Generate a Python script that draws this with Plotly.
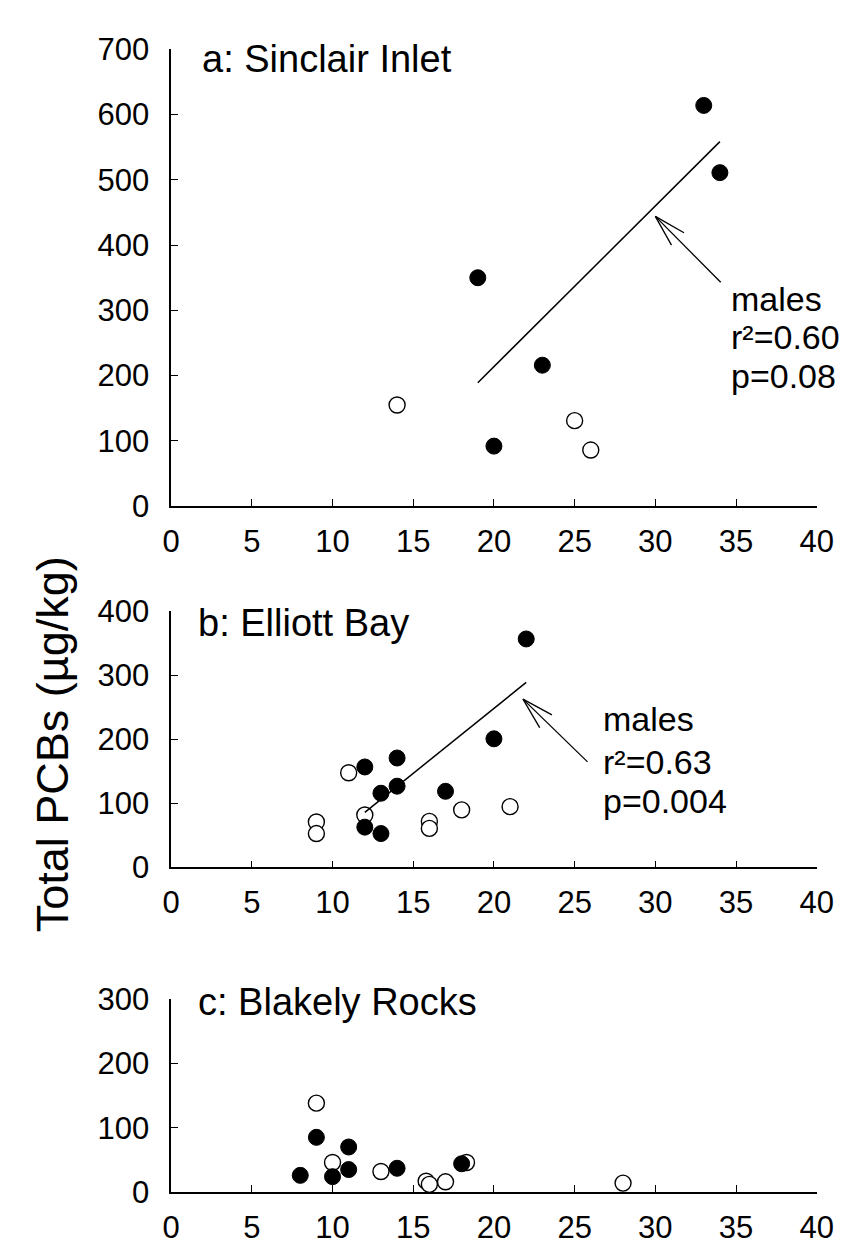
import math
import numpy as np
import plotly.graph_objects as go

# ---------------- data ----------------
# Panel a: Sinclair Inlet
a_male_x = [19, 20, 23, 33, 34]
a_male_y = [350, 92, 216, 614, 511]
a_female_x = [14, 25, 26]
a_female_y = [155, 131, 86]

# Panel b: Elliott Bay
b_male_x = [12, 12, 13, 13, 14, 14, 17, 20, 22]
b_male_y = [157, 63, 116, 53, 171, 127, 119, 201, 357]
b_female_x = [9, 9, 11, 12, 16, 16, 18, 21]
b_female_y = [71, 53, 148, 82, 72, 61, 90, 95]

# Panel c: Blakely Rocks
c_male_x = [8, 9, 10, 11, 11, 14, 18]
c_male_y = [26, 85, 24, 70, 35, 37, 44]
c_female_x = [9, 10, 13, 15.8, 16, 17, 18.3, 28]
c_female_y = [138, 46, 32, 17, 12, 16, 46, 14]

panel_titles = ["a: Sinclair Inlet", "b: Elliott Bay", "c: Blakely Rocks"]
y_max = [700, 400, 300]
x_max = 40
x_ticks = [0, 5, 10, 15, 20, 25, 30, 35, 40]
stats_a = ["males", "r²=0.60", "p=0.08"]
stats_b = ["males", "r²=0.63", "p=0.004"]
y_title = "Total PCBs (µg/kg)"

# ---------------- layout helpers ----------------
W, H = 849, 1252
def px(x):
    return x / W
def py(y):
    return 1 - y / H

FONT = "Liberation Sans, Arial, sans-serif"
X_LEFT, X_RIGHT = 159, 825
Y_PIX = [(495, 25), (866.7, 603.3), (1200.7, 1001.7)]   # (bottom, top) pixel rows
x_dom = [px(X_LEFT), px(X_RIGHT)]
y_doms = [[py(b), py(t)] for b, t in Y_PIX]

def data_to_pix(p, x, y):
    b, t = Y_PIX[p]
    return (X_LEFT + x * (X_RIGHT - X_LEFT) / x_max, b - y * (b - t) / y_max[p])

def pix_to_data(p, X, Y):
    b, t = Y_PIX[p]
    return ((X - X_LEFT) * x_max / (X_RIGHT - X_LEFT), (b - Y) * y_max[p] / (b - t))

fig = go.Figure()

panels = [
    (a_male_x, a_male_y, a_female_x, a_female_y),
    (b_male_x, b_male_y, b_female_x, b_female_y),
    (c_male_x, c_male_y, c_female_x, c_female_y),
]

for i, (mx, my, fx, fy) in enumerate(panels):
    xa = "x" if i == 0 else f"x{i+1}"
    ya = "y" if i == 0 else f"y{i+1}"
    fig.add_trace(go.Scatter(
        x=fx, y=fy, mode="markers", xaxis=xa, yaxis=ya,
        marker=dict(symbol="circle", size=16, color="white",
                    line=dict(color="black", width=1.4)),
        cliponaxis=False, showlegend=False))
    fig.add_trace(go.Scatter(
        x=mx, y=my, mode="markers", xaxis=xa, yaxis=ya,
        marker=dict(symbol="circle", size=16, color="black",
                    line=dict(color="black", width=1)),
        cliponaxis=False, showlegend=False))
    if i < 2:
        slope, intercept = np.polyfit(mx, my, 1)
        lx = np.array([min(mx), max(mx)], dtype=float)
        fig.add_trace(go.Scatter(
            x=lx, y=slope * lx + intercept, mode="lines", xaxis=xa, yaxis=ya,
            line=dict(color="black", width=1.5), showlegend=False))

axis_common = dict(
    showline=True, linecolor="black", linewidth=1.5,
    ticks="inside", ticklen=7, tickwidth=1.3, tickcolor="black",
    showgrid=False, zeroline=False,
    tickfont=dict(family=FONT, size=31, color="black"),
)

layout = dict(
    width=W, height=H, margin=dict(l=0, r=0, t=0, b=0),
    paper_bgcolor="white", plot_bgcolor="white",
    font=dict(family=FONT, color="black"),
)
for i in range(3):
    xk = "xaxis" if i == 0 else f"xaxis{i+1}"
    yk = "yaxis" if i == 0 else f"yaxis{i+1}"
    ya = "y" if i == 0 else f"y{i+1}"
    xa = "x" if i == 0 else f"x{i+1}"
    layout[xk] = dict(axis_common, domain=x_dom, range=[0, x_max], anchor=ya,
                      tickvals=x_ticks, ticklabelstandoff=7)
    layout[yk] = dict(axis_common, domain=y_doms[i], range=[0, y_max[i]], anchor=xa,
                      tickvals=list(range(0, y_max[i] + 1, 100)), ticklabelstandoff=14)
fig.update_layout(**layout)

# ---------------- arrows (open V heads) as shapes ----------------
arrows = [  # (panel, head x, head y, tail x, tail y) in data units
    (0, 30, 444, 34.05, 343),
    (1, 21.8, 263, 25.8, 165),
]
shapes = []
BARB_LEN, BARB_ANG = 34, math.radians(15.5)
for p, hx, hy, tx, ty in arrows:
    xr = "x" if p == 0 else f"x{p+1}"
    yr = "y" if p == 0 else f"y{p+1}"
    line = dict(color="black", width=1.3)
    shapes.append(dict(type="line", xref=xr, yref=yr, x0=tx, y0=ty, x1=hx, y1=hy, line=line))
    HX, HY = data_to_pix(p, hx, hy)
    TX, TY = data_to_pix(p, tx, ty)
    L = math.hypot(TX - HX, TY - HY)
    ux, uy = (TX - HX) / L, (TY - HY) / L
    for s in (1, -1):
        ca, sa = math.cos(s * BARB_ANG), math.sin(s * BARB_ANG)
        bx = HX + BARB_LEN * (ux * ca - uy * sa)
        by = HY + BARB_LEN * (ux * sa + uy * ca)
        dx, dy = pix_to_data(p, bx, by)
        shapes.append(dict(type="line", xref=xr, yref=yr, x0=hx, y0=hy, x1=dx, y1=dy, line=line))
fig.update_layout(shapes=shapes)

annotations = []
# panel titles
title_pos = [(189, 35), (185, 615), (185, 1005)]
for t, (tx, ty) in zip(panel_titles, title_pos):
    annotations.append(dict(text=t, x=px(tx), y=py(ty), xref="paper", yref="paper",
                            xanchor="left", yanchor="middle", showarrow=False,
                            font=dict(family=FONT, size=38, color="black")))
# y axis title
annotations.append(dict(text=y_title, x=px(36), y=py(740), xref="paper", yref="paper",
                        xanchor="center", yanchor="middle", textangle=-90, showarrow=False,
                        font=dict(family=FONT, size=45, color="black")))
# stats text, one annotation per line
stats_rows_a = [282, 321, 361]
stats_rows_b = [714, 758, 798]
for lines, left, rows in ((stats_a, 734, stats_rows_a), (stats_b, 602, stats_rows_b)):
    for txt, ry in zip(lines, rows):
        annotations.append(dict(text=txt, x=px(left), y=py(ry), xref="paper", yref="paper",
                                xanchor="left", yanchor="middle", align="left", showarrow=False,
                                font=dict(family=FONT, size=34, color="black")))
fig.update_layout(annotations=annotations)

fig.write_html("out.html")
